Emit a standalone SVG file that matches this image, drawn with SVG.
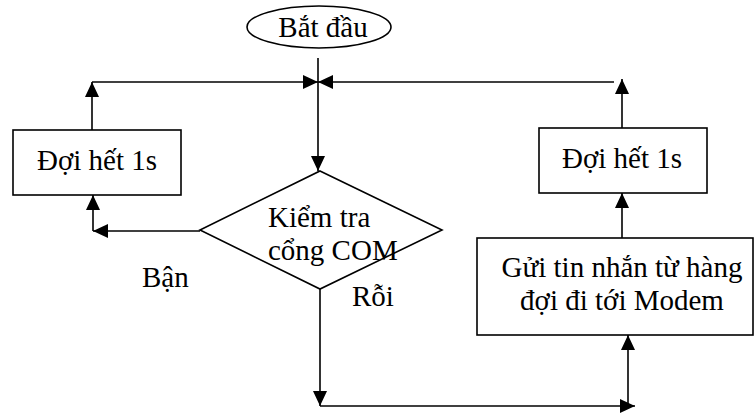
<svg xmlns="http://www.w3.org/2000/svg" width="756" height="414" viewBox="0 0 756 414">
<style>
.shape{fill:#fff;stroke:#000;stroke-width:1.6}
.line{fill:none;stroke:#000;stroke-width:1.6}
.t{font-family:"Liberation Serif","Times New Roman",serif;font-size:29px;fill:#000}
.c{text-anchor:middle}
</style>
<defs>
<marker id="ah" markerUnits="userSpaceOnUse" markerWidth="15" markerHeight="14" refX="15" refY="7" orient="auto">
<path d="M0,0 L15,7 L0,14 z" fill="#000"/>
</marker>
</defs>
<rect width="756" height="414" fill="#fff"/>
<g id="connectors">
<path class="line" d="M318,58 L318,171" marker-end="url(#ah)"/>
<path class="line" d="M92,130 L92,82" marker-end="url(#ah)"/>
<path class="line" d="M92,82 L318,82" marker-end="url(#ah)"/>
<path class="line" d="M614,82 L318,82" marker-end="url(#ah)"/>
<path class="line" d="M622,128 L622,79" marker-end="url(#ah)"/>
<path class="line" d="M622,238 L622,193" marker-end="url(#ah)"/>
<path class="line" d="M200,231 L93,231" marker-end="url(#ah)"/>
<path class="line" d="M93,231 L93,195" marker-end="url(#ah)"/>
<path class="line" d="M320,289 L320,406" marker-end="url(#ah)"/>
<path class="line" d="M320,406 L635,406" marker-end="url(#ah)"/>
<path class="line" d="M628,406 L628,335" marker-end="url(#ah)"/>
</g>
<g id="start">
<ellipse class="shape" cx="319" cy="27" rx="72" ry="21"/>
<text class="t c" x="323" y="37">Bắt đầu</text>
</g>
<g id="wait-left">
<rect class="shape" x="13" y="130" width="168" height="65"/>
<text class="t c" x="97" y="170">Đợi hết 1s</text>
</g>
<g id="check">
<polygon class="shape" points="320,171 442,230 320,289 200,230"/>
<text class="t" x="268" y="227">Kiểm tra</text>
<text class="t" x="268" y="260">cổng COM</text>
</g>
<g id="wait-right">
<rect class="shape" x="539" y="128" width="168" height="65"/>
<text class="t c" x="622" y="168">Đợi hết 1s</text>
</g>
<g id="send">
<rect class="shape" x="477" y="238" width="276" height="97"/>
<text class="t c" x="622" y="277">Gửi tin nhắn từ hàng</text>
<text class="t c" x="622" y="310">đợi đi tới Modem</text>
</g>
<g id="labels">
<text class="t" x="142" y="287">Bận</text>
<text class="t" x="352" y="306">Rỗi</text>
</g>
</svg>
